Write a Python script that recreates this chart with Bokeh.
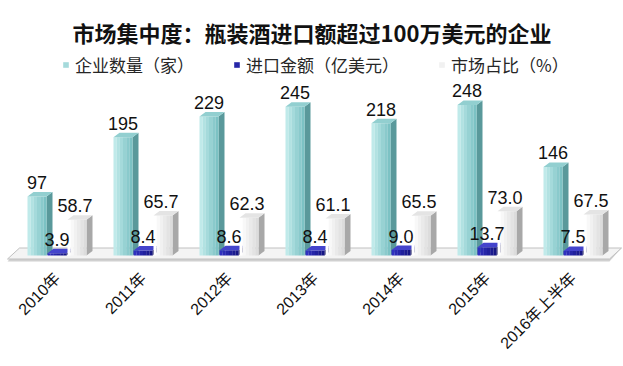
import math
from bokeh.plotting import figure
from bokeh.models import Range1d, FixedTicker, Legend, LegendItem, ColumnDataSource
from bokeh.core.properties import value
from bokeh.embed import file_html
from bokeh.resources import INLINE

# ---- data ----
categories = ["2010年", "2011年", "2012年", "2013年", "2014年", "2015年", "2016年上半年"]
firms = [97, 195, 229, 245, 218, 248, 146]
imports = [3.9, 8.4, 8.6, 8.4, 9.0, 13.7, 7.5]
share = [58.7, 65.7, 62.3, 61.1, 65.5, 73.0, 67.5]
series_names = ["企业数量（家）", "进口金额（亿美元）", "市场占比（%）"]
title_text = "市场集中度：瓶装酒进口额超过100万美元的企业"

# ---- layout constants (page has no margin: figure px == window px) ----
W, H = 623, 366
PX_X = 86.0          # px per category
SCALE_Y = 0.607      # px per value unit
frame_top, frame_bot, base_y = 50, 262, 255
y_end = (base_y - frame_top) / SCALE_Y
y_start = -(frame_bot - base_y) / SCALE_Y
x_start = -57 / PX_X
x_end = x_start + W / PX_X

DX = 6 / PX_X        # depth offset (x)
DY = 4.5 / SCALE_Y   # depth offset (y)
BAR_W = 19 / PX_X
offsets = [-30 / PX_X, -10 / PX_X, 10 / PX_X]


def ramp(c0, c1, k):
    a = [int(c0[i:i + 2], 16) for i in (1, 3, 5)]
    b = [int(c1[i:i + 2], 16) for i in (1, 3, 5)]
    out = []
    for j in range(k):
        t = j / (k - 1)
        out.append("#%02x%02x%02x" % tuple(round(a[m] + (b[m] - a[m]) * t) for m in range(3)))
    return out


NSTRIP = 6
styles = [
    dict(strips=ramp("#c0eaea", "#7cc2c4", NSTRIP), side="#5a999b", top="#92cfd0"),
    dict(strips=ramp("#3030c0", "#161684", NSTRIP), side="#0e0e55", top="#4444cc"),
    dict(strips=ramp("#ffffff", "#dcdcdc", NSTRIP), side="#a8a8a8", top="#e4e4e4"),
]

p = figure(width=W, height=H, x_range=Range1d(x_start, x_end), y_range=Range1d(y_start, y_end),
           y_axis_location=None, output_backend="svg", toolbar_location=None,
           min_border_left=0, min_border_right=0, min_border_top=frame_top,
           min_border_bottom=H - frame_bot)
p.background_fill_color = "white"
p.border_fill_color = "white"
p.outline_line_color = None
p.xgrid.visible = False
p.ygrid.visible = False

p.title.text = title_text
p.title.align = "center"
p.title.text_font = "Noto Sans CJK SC"
p.title.text_font_size = "22px"
p.title.text_font_style = "bold"
p.title.text_color = "#111111"
p.title.standoff = 6

# ---- floor ----
n = len(categories)
fl_x0, fl_x1 = -0.5 - 7 / PX_X, n - 0.5 - 7 / PX_X
fl_front, fl_back = -3.5 / SCALE_Y, 7.5 / SCALE_Y
fl_dx = 12 / PX_X
p.patch([fl_x0, fl_x1, fl_x1 + fl_dx, fl_x0 + fl_dx],
        [fl_front - 2.5 / SCALE_Y, fl_front - 2.5 / SCALE_Y, fl_back, fl_back],
        fill_color="#d0d0d0", line_color=None)
p.patch([fl_x0, fl_x1, fl_x1 + fl_dx, fl_x0 + fl_dx], [fl_front, fl_front, fl_back, fl_back],
        fill_color="#f4f4f4", line_color="#c0c0c0", line_width=1)

# ---- bars ----
legend_items = []
label_specs = []
series = [firms, imports, share]
for s, (vals, off, st) in enumerate(zip(series, offsets, styles)):
    xl = [i + off for i in range(n)]
    xr = [x + BAR_W for x in xl]
    side_xs = [[r, r + DX, r + DX, r] for r in xr]
    side_ys = [[0, DY, v + DY, v] for v in vals]
    p.patches(side_xs, side_ys, fill_color=st["side"], line_color=None)
    k = len(st["strips"])
    mid_renderer = None
    for j, col in enumerate(st["strips"]):
        src = ColumnDataSource(dict(
            left=[a + (b - a) * j / k for a, b in zip(xl, xr)],
            right=[a + (b - a) * (j + 1) / k + 0.0005 for a, b in zip(xl, xr)],
            top=vals, bottom=[0] * n))
        r = p.quad(left="left", right="right", top="top", bottom="bottom", source=src,
                   fill_color=col, line_color=None)
        if j == 2:
            mid_renderer = r
    top_xs = [[a, b, b + DX, a + DX] for a, b in zip(xl, xr)]
    top_ys = [[v, v, v + DY, v + DY] for v in vals]
    p.patches(top_xs, top_ys, fill_color=st["top"], line_color=None)
    legend_items.append(LegendItem(label=series_names[s], renderers=[mid_renderer]))
    labels = [f"{v:d}" if isinstance(v, int) else f"{v:.1f}" for v in vals]
    label_specs.append(([(a + b) / 2 for a, b in zip(xl, xr)], [v + DY for v in vals], labels,
                        -2 if s == 2 else 0))

# value labels drawn on top of all bars
for lx, ly, lt, xoff in label_specs:
    p.text(x=lx, y=ly, text=lt, text_align="center", text_baseline="bottom",
           y_offset=-3, x_offset=xoff, text_font=value("Liberation Sans"),
           text_font_size="18px", text_color="#111111")

# ---- legend ----
legend = Legend(items=legend_items, orientation="horizontal", location=(62, 185),
                glyph_width=7, glyph_height=7, label_standoff=6, spacing=39, padding=0,
                margin=0, border_line_color=None, background_fill_alpha=0,
                label_text_font="Noto Sans CJK SC", label_text_font_size="17px",
                label_text_color="#262626")
p.add_layout(legend, "center")

# ---- x axis ----
ax = p.xaxis[0]
ax.ticker = FixedTicker(ticks=list(range(n)))
ax.major_label_overrides = {i: c for i, c in enumerate(categories)}
ax.major_label_orientation = math.pi / 4
ax.axis_line_color = None
ax.major_tick_line_color = None
ax.minor_tick_line_color = None
ax.major_tick_out = 0
ax.major_tick_in = 0
ax.minor_tick_out = 0
ax.minor_tick_in = 0
ax.major_label_standoff = 13
ax.major_label_text_font = "Liberation Sans, Noto Sans CJK SC"
ax.major_label_text_font_size = "16px"
ax.major_label_text_color = "#111111"

open("out.html", "w").write(file_html(p, INLINE))
